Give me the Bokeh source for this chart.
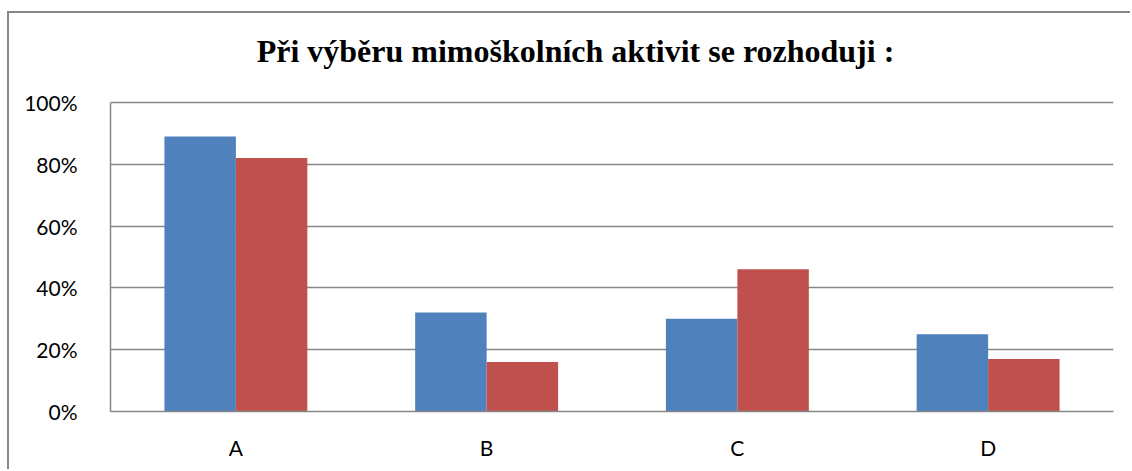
from bokeh.plotting import figure
from bokeh.models import FactorRange, Range1d, NumeralTickFormatter, ColumnDataSource, Label
from bokeh.transform import dodge
from bokeh.embed import file_html
from bokeh.resources import INLINE

title_text = "Při výběru mimoškolních aktivit se rozhoduji :"
categories = ["A", "B", "C", "D"]
series1 = [0.89, 0.32, 0.30, 0.25]
series2 = [0.82, 0.16, 0.46, 0.17]
y_ticks = [0, 0.2, 0.4, 0.6, 0.8, 1.0]

src = ColumnDataSource(dict(cat=categories, s1=series1, s2=series2))

# frame: bottom at canvas 398, 309 px per 100 %; top extended to canvas 10 to hold the title
p = figure(width=1123, height=458, output_backend="svg", toolbar_location=None,
           x_range=FactorRange(*categories, range_padding=0), y_range=Range1d(0, 388 / 309),
           min_border_left=101, min_border_right=19, min_border_top=10, min_border_bottom=60,
           outline_line_color=None, background_fill_color="white", border_fill_color="white",
           styles={"border-left": "2px solid #878787", "border-top": "2px solid #878787",
                   "margin-left": "7px", "margin-top": "11px"})

p.vbar(x=dodge("cat", -0.1425, range=p.x_range), top="s1", width=0.285, source=src,
       fill_color="#4F81BD", line_color=None)
p.vbar(x=dodge("cat", 0.1425, range=p.x_range), top="s2", width=0.285, source=src,
       fill_color="#C0504D", line_color=None)

title = Label(x=465, y=361, x_units="screen", y_units="screen", text=title_text,
              text_font="Liberation Serif", text_font_style="bold", text_font_size="32px",
              text_align="center", text_baseline="alphabetic", text_color="black")
p.add_layout(title)

p.yaxis.ticker = y_ticks
p.yaxis.bounds = (0, 1)
p.yaxis.formatter = NumeralTickFormatter(format="0%")
for ax in (p.xaxis[0], p.yaxis[0]):
    ax.axis_line_color = "#868686"
    ax.axis_line_width = 1.5
    ax.major_tick_line_color = None
    ax.minor_tick_line_color = None
    ax.major_label_text_font = "Lato"
    ax.major_label_text_font_size = "21px"
    ax.major_label_text_color = "black"
p.yaxis.major_label_standoff = 27
p.xaxis.major_label_standoff = 17

p.xgrid.grid_line_color = None
p.ygrid.ticker = y_ticks
p.ygrid.grid_line_color = "#868686"
p.ygrid.grid_line_width = 1.5

open("out.html", "w").write(file_html(p, INLINE))
